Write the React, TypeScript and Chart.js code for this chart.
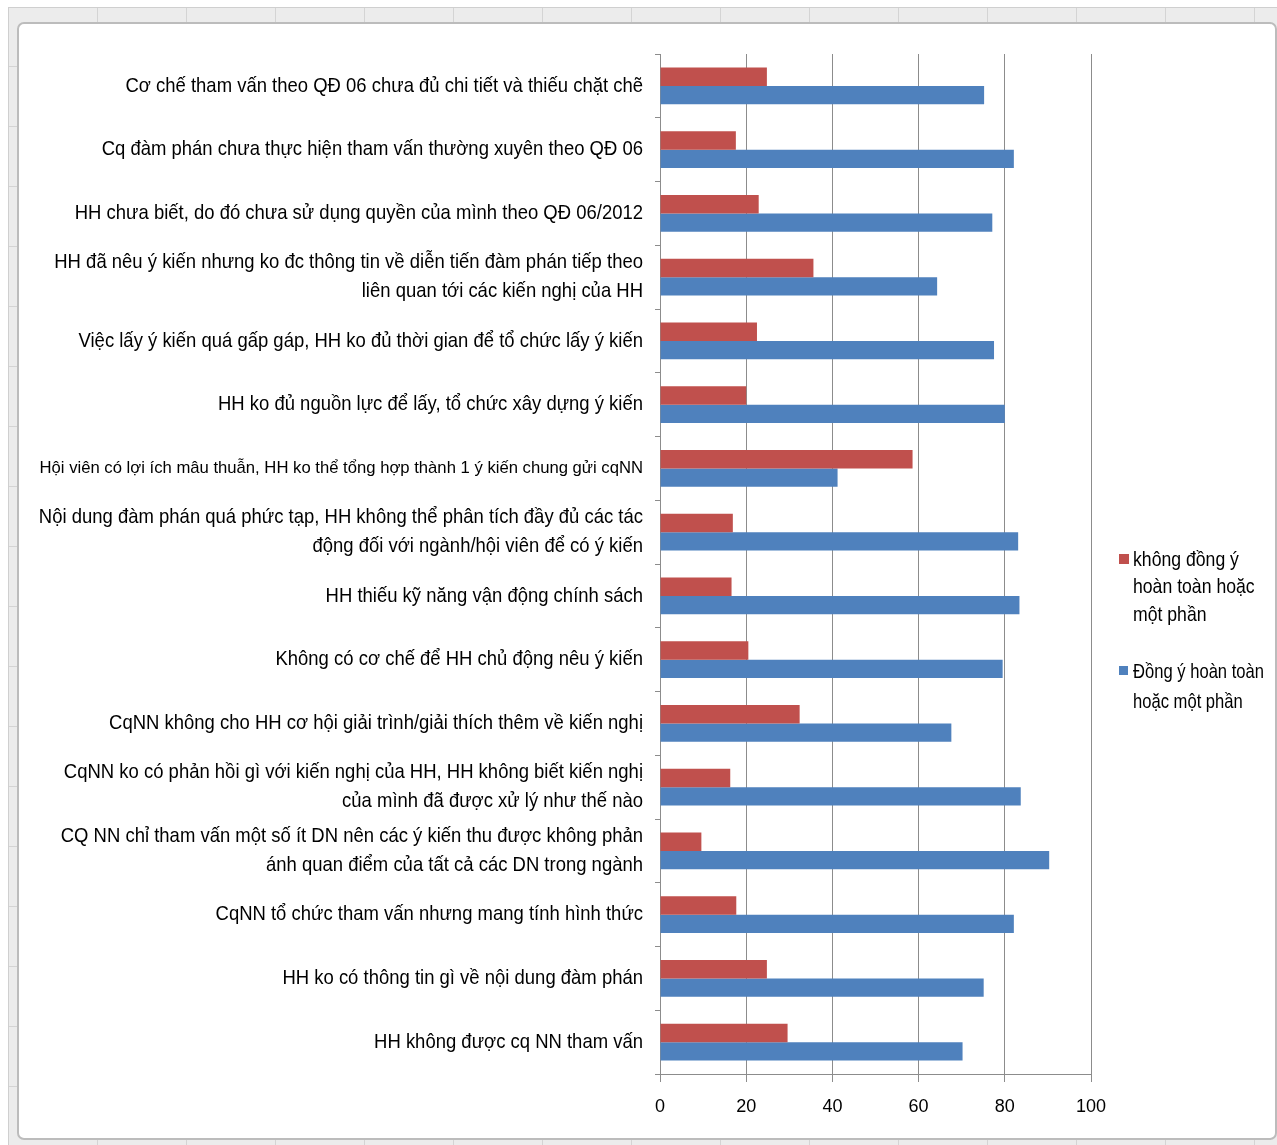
import React, { useEffect, useRef } from "react";
import { Chart, registerables } from "chart.js";

Chart.register(...registerables);

const categories: (string | string[])[] = [
  "Cơ chế tham vấn theo QĐ 06 chưa đủ chi tiết và thiếu chặt chẽ",
  "Cq đàm phán chưa thực hiện tham vấn thường xuyên theo QĐ 06",
  "HH chưa biết, do đó chưa sử dụng quyền của mình theo QĐ 06/2012",
  ["HH đã nêu ý kiến nhưng ko đc thông tin về diễn tiến đàm phán tiếp theo", "liên quan tới các kiến nghị của HH"],
  "Việc lấy ý kiến quá gấp gáp, HH ko đủ thời gian để tổ chức lấy ý kiến",
  "HH ko đủ nguồn lực để lấy, tổ chức xây dựng ý kiến",
  "Hội viên có lợi ích mâu thuẫn, HH ko thể tổng hợp thành 1 ý kiến chung gửi cqNN",
  ["Nội dung đàm phán quá phức tạp, HH không thể phân tích đầy đủ các tác", "động đối với ngành/hội viên để có ý kiến"],
  "HH thiếu kỹ năng vận động chính sách",
  "Không có cơ chế để HH chủ động nêu ý kiến",
  "CqNN không cho HH cơ hội giải trình/giải thích thêm về kiến nghị",
  ["CqNN ko có phản hồi gì với kiến nghị của HH, HH không biết kiến nghị", "của mình đã được xử lý như thế nào"],
  ["CQ NN chỉ tham vấn một số ít DN nên các ý kiến thu được không phản", "ánh quan điểm của tất cả các DN trong ngành"],
  "CqNN tổ chức tham vấn nhưng mang tính hình thức",
  "HH ko có thông tin gì về nội dung đàm phán",
  "HH không được cq NN tham vấn",
];

const disagreeValues = [24.8, 17.6, 22.9, 35.6, 22.5, 20, 58.6, 16.9, 16.6, 20.5, 32.4, 16.3, 9.6, 17.7, 24.8, 29.6];
const agreeValues = [75.2, 82.1, 77.1, 64.3, 77.5, 80, 41.2, 83.1, 83.4, 79.5, 67.6, 83.7, 90.3, 82.1, 75.1, 70.2];

const seriesNames = ["không đồng ý hoàn toàn hoặc một phần", "Đồng ý hoàn toàn hoặc một phần"];
const legendLines = [
  ["không đồng ý", "hoàn toàn hoặc", "một phần"],
  ["Đồng ý hoàn toàn", "hoặc một phần"],
];
const xTicks = [0, 20, 40, 60, 80, 100];

const RED = "#C0504D";
const BLUE = "#4F81BD";
const SANS = "'Liberation Sans', Arial, sans-serif";

// Draws the category labels in a horizontally condensed face (like Arial Narrow)
const labelPlugin = {
  id: "narrowLabels",
  afterDraw(chart: any) {
    const ctx = chart.ctx;
    const yScale = chart.scales.y;
    const xRight = chart.chartArea.left - 17;
    const labels = chart.data.labels as (string | string[])[];
    ctx.save();
    ctx.fillStyle = "#000";
    ctx.textAlign = "right";
    ctx.textBaseline = "middle";
    labels.forEach((lab, i) => {
      const lines = Array.isArray(lab) ? lab : [lab];
      const y = yScale.getPixelForValue(i);
      const lh = 29;
      const small = i === 6;
      ctx.font = small ? `17px ${SANS}` : `21px ${SANS}`;
      const sx = small ? 0.98 : 0.88;
      lines.forEach((line, j) => {
        const yy = y - ((lines.length - 1) * lh) / 2 + j * lh;
        ctx.save();
        ctx.translate(xRight, yy);
        ctx.scale(sx, 1.0);
        ctx.fillText(line, 0, 0);
        ctx.restore();
      });
    });
    ctx.restore();
  },
};

const legendPlugin = {
  id: "sideLegend",
  afterDraw(chart: any) {
    const ctx = chart.ctx;
    const x0 = chart.chartArea.right + 28;
    const starts = [560, 672];
    const spacing = [27.5, 30];
    const sq = [10, 9];
    const sxs = [0.84, 0.79];
    ctx.save();
    chart.data.datasets.forEach((ds: any, i: number) => {
      const y = starts[i];
      ctx.fillStyle = ds.backgroundColor;
      ctx.fillRect(x0, y - 6, sq[i], sq[i]);
      ctx.fillStyle = "#000";
      ctx.font = `21px ${SANS}`;
      ctx.textBaseline = "middle";
      ctx.textAlign = "left";
      legendLines[i].forEach((line, j) => {
        ctx.save();
        ctx.translate(x0 + 14, y + j * spacing[i]);
        ctx.scale(sxs[i], 1);
        ctx.fillText(line, 0, 0);
        ctx.restore();
      });
    });
    ctx.restore();
  },
};

export default function App() {
  const ref = useRef<HTMLCanvasElement | null>(null);

  useEffect(() => {
    if (!ref.current) return;
    const chart = new Chart(ref.current, {
      type: "bar",
      data: {
        labels: categories,
        datasets: [
          { label: seriesNames[0], data: disagreeValues, backgroundColor: RED, categoryPercentage: 0.58, barPercentage: 1 },
          { label: seriesNames[1], data: agreeValues, backgroundColor: BLUE, categoryPercentage: 0.58, barPercentage: 1 },
        ],
      },
      options: {
        indexAxis: "y",
        animation: false,
        responsive: false,
        maintainAspectRatio: false,
        layout: { padding: { top: 54, right: 186, bottom: 0, left: 0 } },
        plugins: { legend: { display: false }, tooltip: { enabled: false } },
        scales: {
          x: {
            min: 0,
            max: 100,
            afterBuildTicks: (scale: any) => {
              scale.ticks = xTicks.map((v) => ({ value: v }));
            },
            afterFit: (scale: any) => {
              scale.height = 71;
            },
            grid: { color: "#8c8c8c", lineWidth: 1, tickLength: 8, drawTicks: true },
            border: { color: "#8c8c8c", width: 1 },
            ticks: {
              color: "#000",
              font: { family: SANS, size: 18 },
              padding: 14,
            },
          },
          y: {
            afterFit: (scale: any) => {
              scale.width = 660;
            },
            grid: { drawOnChartArea: false, color: "#8c8c8c", tickLength: 5, offset: true },
            border: { color: "#8c8c8c", width: 1 },
            ticks: { display: false, autoSkip: false },
          },
        },
      },
      plugins: [labelPlugin, legendPlugin],
    } as any);
    return () => chart.destroy();
  }, []);

  return (
    <div style={{ position: "fixed", left: 0, top: 0, width: 1277, height: 1145, background: "#fff", overflow: "hidden" }}>
      <div
        style={{
          position: "absolute",
          left: 8,
          top: 7,
          width: 1269,
          height: 1138,
          background: "#ececec",
          backgroundImage:
            "repeating-linear-gradient(90deg, transparent 0 88px, #d4d4d4 88px 89px), repeating-linear-gradient(0deg, transparent 0 59px, #d4d4d4 59px 60px)",
          borderTop: "1px solid #cfcfcf",
          borderLeft: "1px solid #cfcfcf",
        }}
      />
      <div
        style={{
          position: "absolute",
          left: 17,
          top: 22,
          width: 1256,
          height: 1114,
          background: "#fff",
          border: "2px solid #bcbcbc",
          borderRadius: 7,
        }}
      />
      <canvas ref={ref} width={1277} height={1145} style={{ position: "absolute", left: 0, top: 0, width: 1277, height: 1145 }} />
    </div>
  );
}
